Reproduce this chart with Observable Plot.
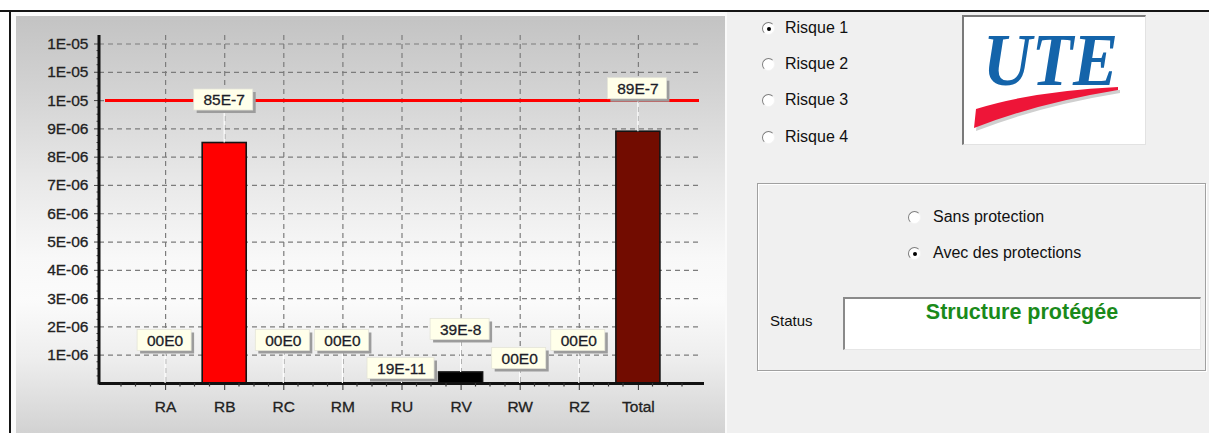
<!DOCTYPE html>
<html><head><meta charset="utf-8">
<script src="https://cdn.jsdelivr.net/npm/d3@7"></script>
<script src="https://cdn.jsdelivr.net/npm/@observablehq/plot@0.6"></script>
<style>
html,body{margin:0;padding:0;overflow:hidden}
body{width:1209px;height:433px;overflow:hidden;background:#fff;position:relative;font-family:"Liberation Sans",Arial,sans-serif;color:#000}
.abs{position:absolute}
.radio{position:absolute;width:11px;height:11px;border-radius:50%;background:#fff;border:1px solid;border-color:#7d7d7d #f4f4f4 #f4f4f4 #7d7d7d;box-sizing:content-box}
.radio.on::after{content:"";position:absolute;left:4px;top:4px;width:4px;height:4px;border-radius:50%;background:#000}
.lbl{position:absolute;font-size:16px;line-height:20px;white-space:nowrap;color:#111}
</style>
</head><body>
<div class="abs" style="left:0;top:10px;width:1209px;height:2px;background:#151515"></div>
<div class="abs" style="left:9px;top:11px;width:2px;height:422px;background:#151515"></div>
<div class="abs" style="left:11px;top:12px;width:714px;height:421px;background:#fbfbfb"></div>
<div class="abs" style="left:16px;top:16px;width:709px;height:417px;background:linear-gradient(#c3c3c3 0%,#d3d3d3 18%,#e9e9e9 40%,#f8f8f8 58%,#fbfbfb 68%,#eeeeee 82%,#d2d2d2 100%)"></div>
<div class="abs" style="left:725px;top:12px;width:2px;height:421px;background:#fafafa"></div>
<div class="abs" style="left:727px;top:12px;width:482px;height:421px;background:#f0f0f0"></div>

<div id="chart" class="abs" style="left:0;top:0"></div>

<!-- right panel -->
<div class="radio on" style="left:762px;top:22px"></div>
<div class="lbl" style="left:785px;top:18px">Risque 1</div>
<div class="radio" style="left:762px;top:58px"></div>
<div class="lbl" style="left:785px;top:54px">Risque 2</div>
<div class="radio" style="left:762px;top:94px"></div>
<div class="lbl" style="left:785px;top:90px">Risque 3</div>
<div class="radio" style="left:762px;top:131px"></div>
<div class="lbl" style="left:785px;top:127px">Risque 4</div>

<div class="abs" style="left:962px;top:15px;width:181px;height:127px;background:#fff;border-left:2px solid #7a7a7a;border-top:2px solid #7a7a7a;border-right:1px solid #e2e2e2;border-bottom:1px solid #e2e2e2"></div>
<svg class="abs" style="left:962px;top:15px" width="183" height="129">
  <path d="M14 94 Q72 76 156 72 L156 75 Q76 88 12 113 Z" fill="#cfcfcf" transform="translate(2,3)"/>
  <path d="M14 94 Q72 76 156 72 L156 75 Q76 88 12 113 Z" fill="#ee1538"/>
  <text x="21" y="70" font-family="Liberation Serif, serif" font-weight="bold" font-style="italic" font-size="75" fill="#1464aa" textLength="135" lengthAdjust="spacingAndGlyphs">UTE</text>
</svg>

<div class="abs" style="left:757px;top:183px;width:447px;height:186px;border:1px solid #a0a0a0;box-shadow:inset 1px 1px 0 #fff,1px 1px 0 #fff"></div>
<div class="radio" style="left:908px;top:211px"></div>
<div class="lbl" style="left:933px;top:207px">Sans protection</div>
<div class="radio on" style="left:908px;top:247px"></div>
<div class="lbl" style="left:933px;top:243px">Avec des protections</div>
<div class="lbl" style="left:770px;top:311px;font-size:15px">Status</div>
<div class="abs" style="left:843px;top:297px;width:355px;height:50px;background:#fff;border-left:2px solid #8a8a8a;border-top:2px solid #8a8a8a;border-right:1px solid #e6e6e6;border-bottom:1px solid #e6e6e6"></div>
<div class="abs" style="left:843px;top:300px;width:358px;text-align:center;font-size:21.5px;line-height:25px;font-weight:bold;color:#1a8a1a">Structure protégée</div>

<script>
// ---- data ----
const categories = ["RA", "RB", "RC", "RM", "RU", "RV", "RW", "RZ", "Total"];
const riskValues = [0, 8.5e-6, 0, 0, 1.9e-10, 3.9e-7, 0, 0, 8.9e-6];
const valueLabels = ["00E0", "85E-7", "00E0", "00E0", "19E-11", "39E-8", "00E0", "00E0", "89E-7"];
const yTicks = [1e-6, 2e-6, 3e-6, 4e-6, 5e-6, 6e-6, 7e-6, 8e-6, 9e-6, 1e-5, 1.1e-5, 1.2e-5];
const yTickLabels = ["1E-06", "2E-06", "3E-06", "4E-06", "5E-06", "6E-06", "7E-06", "8E-06", "9E-06", "1E-05", "1E-05", "1E-05"];
const tolerableRisk = [1e-5];

// ---- styles ----
const barFill = {RB: "#ff0000", RV: "#000000", Total: "#720c00"};
const labelLift = {RU: 15, RW: 25};
const FONT = "Liberation Sans, Arial, sans-serif";
const FS = 15.5;

const rows = categories.map((c, i) => ({cat: c, value: riskValues[i], label: valueLabels[i]}));

const ctx = document.createElement("canvas").getContext("2d");
ctx.font = FS + "px " + FONT;

function axisDecor(index, scales, values, dims) {
  const {x, y} = scales;
  const g = d3.create("svg:g");
  const bw = x.bandwidth(), step = x.step();
  const base = y(0);
  const xs = new Set();
  for (const c of categories) {
    const cx = x(c) + bw / 2;
    for (const k of [-3, -2, -1, 1, 2, 3]) xs.add(Math.round((cx + k * step / 4) * 2) / 2);
  }
  for (const px of xs) {
    g.append("line").attr("x1", px).attr("x2", px).attr("y1", base).attr("y2", base + 3.5)
      .attr("stroke", "#333").attr("stroke-width", 1.2);
  }
  const left = dims.marginLeft;
  const all = [0, ...yTicks];
  for (let i = 0; i < all.length - 1; i++) {
    for (let k = 1; k < 4; k++) {
      const py = y(all[i] + (all[i + 1] - all[i]) * k / 4);
      g.append("line").attr("x1", left - 2.5).attr("x2", left).attr("y1", py).attr("y2", py)
        .attr("stroke", "#444").attr("stroke-width", 1);
    }
  }
  g.append("line").attr("x1", left).attr("x2", left).attr("y1", dims.marginTop).attr("y2", base + 1.5)
    .attr("stroke", "#111").attr("stroke-width", 3);
  return g.node();
}

function labelBoxes(index, scales) {
  const {x, y} = scales;
  const bw = x.bandwidth();
  const g = d3.create("svg:g").attr("font-family", FONT).attr("font-size", FS);
  rows.forEach(r => {
    const cx = x(r.cat) + bw / 2;
    const top = y(r.value);
    const cy = top - (labelLift[r.cat] ?? 43);
    const w = Math.round(ctx.measureText(r.label).width + 18), h = 21;
    const x0 = cx - w / 2 - 1, y0 = cy - h / 2;
    g.append("line").attr("x1", cx).attr("x2", cx).attr("y1", y0 + h).attr("y2", top)
      .attr("stroke", "#ffffff").attr("stroke-width", 1.2);
    g.append("rect").attr("x", x0 + 3).attr("y", y0 + 3).attr("width", w).attr("height", h).attr("fill", "#9c9c9c");
    g.append("rect").attr("x", x0).attr("y", y0).attr("width", w).attr("height", h)
      .attr("fill", "#ffffea").attr("stroke", "#e4e4d8").attr("stroke-width", 0.8);
    g.append("text").attr("x", cx).attr("y", cy).attr("dy", "0.36em").attr("text-anchor", "middle")
      .attr("fill", "#1c1c28").attr("stroke", "#1c1c28").attr("stroke-width", 0.3).text(r.label);
  });
  return g.node();
}

const chart = Plot.plot({
  width: 725,
  height: 433,
  marginLeft: 99,
  marginRight: 21,
  marginTop: 35,
  marginBottom: 50,
  style: {background: "transparent", fontFamily: FONT, fontSize: FS + "px", color: "#222", overflow: "visible"},
  x: {type: "band", domain: categories, paddingInner: 0.255, paddingOuter: 0.746, round: false},
  y: {domain: [0, 1.23e-5]},
  marks: [
    Plot.ruleY(yTicks, {stroke: "#7c7c7c", strokeWidth: 1.2, strokeDasharray: "5,4", insetRight: 6}),
    Plot.ruleX(categories, {x: d => d, stroke: "#7c7c7c", strokeWidth: 1.2, strokeDasharray: "5,4"}),
    Plot.ruleY(tolerableRisk, {stroke: "#ff0000", strokeWidth: 3, insetLeft: 6, insetRight: 5}),
    Plot.barY(rows.filter(d => d.value > 0), {x: "cat", y: "value", fill: d => barFill[d.cat] ?? "#ff0000", stroke: "#141414", strokeWidth: 1.6}),
    Plot.axisY({ticks: yTicks, tickFormat: d => yTickLabels[yTicks.indexOf(d)], tickSize: 5, tickPadding: 6, stroke: "#444", label: null, fontWeight: 500}),
    Plot.axisX({tickSize: 7, tickPadding: 10, stroke: "#333", label: null}),
    Plot.ruleY([0], {stroke: "#111", strokeWidth: 3}),
    axisDecor,
    labelBoxes
  ]
});
chart.querySelectorAll("[aria-label^='y-axis tick label'] text, [aria-label^='x-axis tick label'] text").forEach(t => {
  t.setAttribute("stroke", "#222"); t.setAttribute("stroke-width", "0.3");
});
document.getElementById("chart").appendChild(chart);
</script>
</body></html>
